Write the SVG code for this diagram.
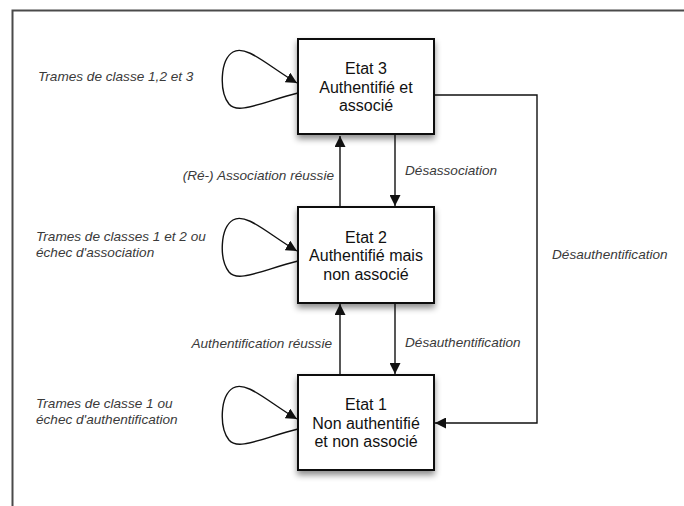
<svg xmlns="http://www.w3.org/2000/svg" width="684" height="506" viewBox="0 0 684 506">
<style>
.frame{fill:none;stroke:#4a4a4a;stroke-width:2}
.box{fill:#fff;stroke:#111;stroke-width:2;filter:url(#sh)}
.bt{font-family:"Liberation Sans",Arial,sans-serif;font-size:16px;fill:#111;text-anchor:middle}
.lb{font-family:"Liberation Sans",Arial,sans-serif;font-style:italic;font-size:13.6px;fill:#3a3a3a}
.ea{fill:none;stroke:#111;stroke-width:1.4;marker-end:url(#ah)}
</style>
<defs>
<filter id="sh" x="-20%" y="-20%" width="140%" height="150%">
<feDropShadow dx="0" dy="4" stdDeviation="3" flood-color="#000" flood-opacity="0.45"/>
</filter>
<marker id="ah" markerUnits="userSpaceOnUse" markerWidth="12" markerHeight="11" refX="11" refY="5.5" orient="auto">
<path d="M0,0 L11,5.5 L0,11 Z" fill="#111"/>
</marker>
</defs>
<rect width="684" height="506" fill="#fff"/>
<path class="frame" d="M12.5,506 V10.5 H684"/>

<g id="connectors">
<path class="ea" d="M298,93 C262,102 238,115 229,104 C219,91 220,60 233,52 C246,44 268,66 297,83"/>
<path class="ea" d="M298,261 C262,270 238,283 229,272 C219,259 220,228 233,220 C246,212 268,234 297,251"/>
<path class="ea" d="M298,429 C262,438 238,451 229,440 C219,427 220,396 233,388 C246,380 268,402 297,419"/>
<path class="ea" d="M340,207 V136"/>
<path class="ea" d="M395,135 V206"/>
<path class="ea" d="M340,375 V304"/>
<path class="ea" d="M395,303 V374"/>
<path class="ea" d="M434,95 H537 V423 H435"/>
</g>

<g id="labels">
<text class="lb" x="38" y="81">Trames de classe 1,2 et 3</text>
<text class="lb" x="36" y="240.5">Trames de classes 1 et 2 ou</text>
<text class="lb" x="36" y="257">échec d'association</text>
<text class="lb" x="36" y="407.5">Trames de classe 1 ou</text>
<text class="lb" x="36" y="424">échec d'authentification</text>
<text class="lb" x="334" y="180" text-anchor="end">(Ré-) Association réussie</text>
<text class="lb" x="405" y="175">Désassociation</text>
<text class="lb" x="332" y="348" text-anchor="end">Authentification réussie</text>
<text class="lb" x="405" y="347">Désauthentification</text>
<text class="lb" x="552" y="259">Désauthentification</text>
</g>

<g id="etat3">
<rect class="box" x="298" y="39" width="136" height="95"/>
<text class="bt" x="366" y="74">Etat 3</text>
<text class="bt" x="366" y="92.5">Authentifié et</text>
<text class="bt" x="366" y="111">associé</text>
</g>
<g id="etat2">
<rect class="box" x="298" y="207" width="136" height="96"/>
<text class="bt" x="366" y="242.5">Etat 2</text>
<text class="bt" x="366" y="261">Authentifié mais</text>
<text class="bt" x="366" y="279.5">non associé</text>
</g>
<g id="etat1">
<rect class="box" x="298" y="375" width="136" height="95"/>
<text class="bt" x="366" y="410">Etat 1</text>
<text class="bt" x="366" y="428.5">Non authentifié</text>
<text class="bt" x="366" y="447">et non associé</text>
</g>
</svg>
